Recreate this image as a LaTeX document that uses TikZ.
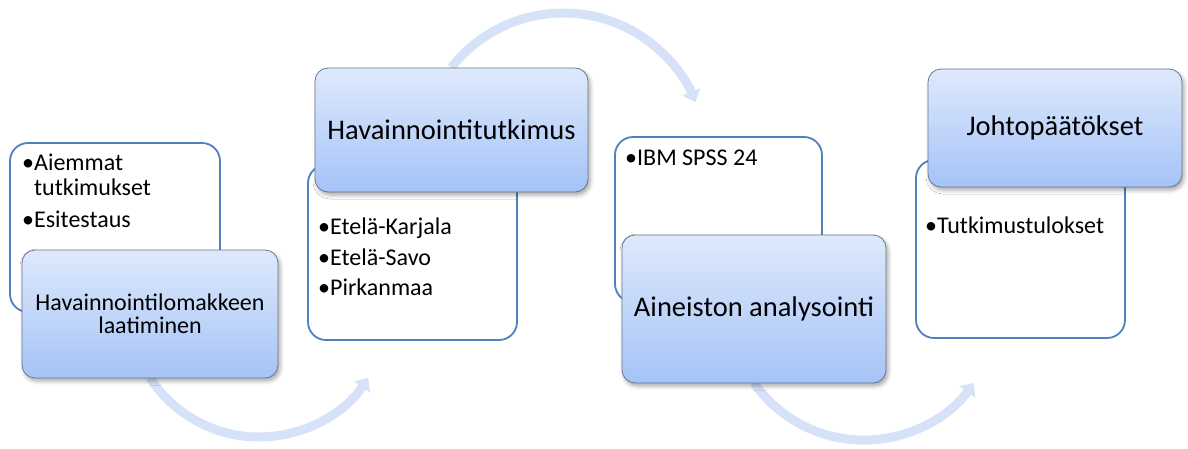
\documentclass[tikz,border=0pt]{standalone}
\usepackage{fontspec}
\setmainfont{Carlito}
\usetikzlibrary{arrows.meta,shadows.blur}

\definecolor{boxline}{RGB}{79,129,189}
\definecolor{headtop}{RGB}{222,233,252}
\definecolor{headbot}{RGB}{165,195,247}
\definecolor{headline}{RGB}{105,120,145}
\definecolor{flow}{RGB}{214,226,247}

\tikzset{
  listbox/.style={draw=boxline, line width=1.8pt, fill=white,
    rounded corners=18pt, inner sep=0pt},
  headbox/.style={draw=headline, line width=0.8pt, rounded corners=13pt,
    top color=headtop, bottom color=headbot, inner sep=0pt, align=center,
    blur shadow={shadow xshift=2pt, shadow yshift=-3pt,
      shadow blur radius=4pt, shadow opacity=35},
    font=\fontsize{28.5}{30}\selectfont},
  listtext/.style={anchor=base west, inner sep=0pt,
    font=\fontsize{24}{28}\selectfont},
  flowarrow/.style={draw=flow, line width=9pt,
    -{Triangle[length=11pt,width=19pt]}},
}

\begin{document}
\begin{tikzpicture}[x=1pt,y=-1pt]
\useasboundingbox (0,0) rectangle (1188,448);

% step boxes: bullet lists behind, headings in front
\node[listbox, minimum width=210pt, minimum height=169pt] (l1) at (115,227.5) {};
\node[listbox, minimum width=209pt, minimum height=175pt] (l2) at (412.5,252.5) {};
\node[listbox, minimum width=207pt, minimum height=165pt] (l3) at (718.5,219.5) {};
\node[listbox, minimum width=209pt, minimum height=178pt] (l4) at (1020.5,249) {};

% connecting flow arrows
\draw[flowarrow] (259,307) ++(147:130) coordinate (f1s)
  arc[start angle=147, end angle=33, radius=130] coordinate (f1e);
\draw[flowarrow] (563.4,155.4) ++(218:142.4) coordinate (f2s)
  arc[start angle=218, end angle=338, radius=142.4] coordinate (f2e);
\draw[flowarrow] (863.8,306.1) ++(145:134) coordinate (f3s)
  arc[start angle=145, end angle=35, radius=134] coordinate (f3e);

\node[headbox, minimum width=256pt, minimum height=128pt,
  font=\fontsize{24}{23}\selectfont] (h1) at (150,314)
  {Havainnointilomakkeen\\laatiminen};
\node[headbox, minimum width=273pt, minimum height=124pt] (h2) at (451.5,130)
  {Havainnointitutkimus};
\node[headbox, minimum width=264pt, minimum height=148pt] (h3) at (754,309)
  {Aineiston analysointi};
\node[headbox, minimum width=254pt, minimum height=118pt] (h4) at (1055,128)
  {Johtopäätökset};

% bullet texts
\node[listtext] (t1a) at (22,170) {•Aiemmat};
\node[listtext] (t1b) at (22,195) {\phantom{•}tutkimukset};
\node[listtext] (t1c) at (22,227) {•Esitestaus};
\node[listtext] (t2a) at (318,234) {•Etelä-Karjala};
\node[listtext] (t2b) at (318,265) {•Etelä-Savo};
\node[listtext] (t2c) at (318,295) {•Pirkanmaa};
\node[listtext] (t3a) at (625,165) {•IBM SPSS 24};
\node[listtext] (t4a) at (925,233) {•Tutkimustulokset};
\end{tikzpicture}
\end{document}
